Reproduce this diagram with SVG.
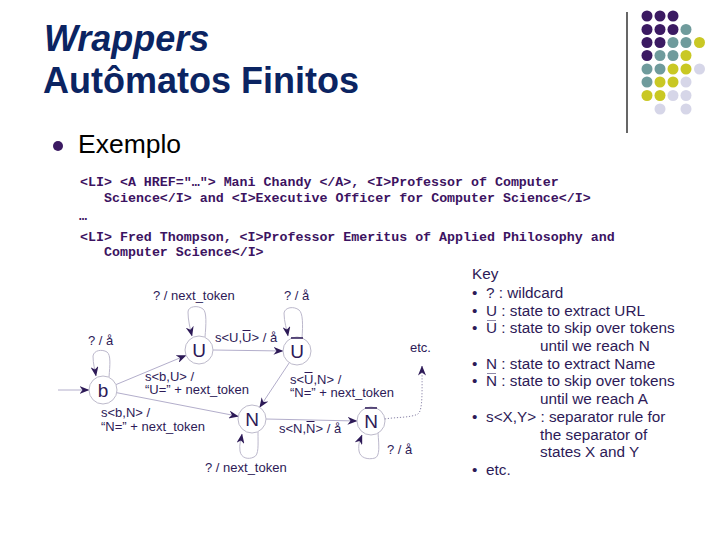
<svg xmlns="http://www.w3.org/2000/svg" width="720" height="540" viewBox="0 0 720 540">
<defs>
<style>
.title{font-family:"Liberation Sans",Arial,sans-serif;font-weight:bold;font-size:36px;fill:#0b2462}
.code{font-family:"Liberation Mono","Courier New",monospace;font-weight:bold;font-size:13.3px;fill:#3c1361}
.lbl{font-family:"Liberation Sans",Arial,sans-serif;font-size:13px;fill:#2d1a57}
.key{font-family:"Liberation Sans",Arial,sans-serif;font-size:15.3px;fill:#2d1a57}
.node circle{fill:#fff;stroke:#bdbacb;stroke-width:1}
.node text{font-family:"Liberation Sans",Arial,sans-serif;font-size:19px;fill:#2d1a57;text-anchor:middle}
.bar{stroke:#2d1a57;stroke-width:1}
.kbar{stroke:#8f8aa8;stroke-width:1}
.edge{fill:none;stroke:#b3aecb;stroke-width:1;marker-end:url(#ah)}
.loop{fill:none;stroke:#bcb8cc;stroke-width:1;marker-end:url(#ah)}
.p{fill:#3b1a62}.t{fill:#6f9b9c}.y{fill:#c9c824}.l{fill:#d6d6e8}
</style>
<marker id="ah" viewBox="0 0 10 8" refX="9.5" refY="4" markerWidth="10" markerHeight="8" markerUnits="userSpaceOnUse" orient="auto">
<path d="M0,0 L10,4 L0,8 L3,4 z" fill="#2d1a57"/>
</marker>
</defs>
<rect width="720" height="540" fill="#fff"/>

<g id="title">
<text class="title" x="44" y="51" font-style="italic">Wrappers</text>
<text class="title" x="43" y="93">Autômatos Finitos</text>
</g>

<g id="decor">
<line x1="627" y1="12" x2="627" y2="133" stroke="#000" stroke-width="1.2"/>
<g>
<circle class="p" cx="647" cy="16" r="5.5"/><circle class="p" cx="660" cy="16" r="5.5"/><circle class="p" cx="673" cy="16" r="5.5"/>
<circle class="p" cx="647" cy="29.5" r="5.5"/><circle class="p" cx="660" cy="29.5" r="5.5"/><circle class="p" cx="673" cy="29.5" r="5.5"/><circle class="t" cx="686" cy="29.5" r="5.5"/>
<circle class="p" cx="647" cy="42.5" r="5.5"/><circle class="p" cx="660" cy="42.5" r="5.5"/><circle class="t" cx="673" cy="42.5" r="5.5"/><circle class="t" cx="686" cy="42.5" r="5.5"/><circle class="y" cx="699.5" cy="42.5" r="5.5"/>
<circle class="p" cx="647" cy="55.5" r="5.5"/><circle class="t" cx="660" cy="55.5" r="5.5"/><circle class="t" cx="673" cy="55.5" r="5.5"/><circle class="y" cx="686" cy="55.5" r="5.5"/>
<circle class="t" cx="647" cy="69" r="5.5"/><circle class="t" cx="660" cy="69" r="5.5"/><circle class="y" cx="673" cy="69" r="5.5"/><circle class="y" cx="686" cy="69" r="5.5"/><circle class="l" cx="699.5" cy="69" r="5.5"/>
<circle class="t" cx="647" cy="82" r="5.5"/><circle class="y" cx="660" cy="82" r="5.5"/><circle class="y" cx="673" cy="82" r="5.5"/><circle class="l" cx="686" cy="82" r="5.5"/>
<circle class="y" cx="647" cy="95.5" r="5.5"/><circle class="y" cx="660" cy="95.5" r="5.5"/><circle class="l" cx="673" cy="95.5" r="5.5"/><circle class="l" cx="686" cy="95.5" r="5.5"/>
<circle class="l" cx="660" cy="109" r="5.5"/><circle class="l" cx="686" cy="109" r="5.5"/>
</g>
</g>

<g id="bullet">
<circle cx="58" cy="146" r="5" fill="#3b1a62"/>
<text x="78" y="153" font-family="'Liberation Sans',Arial,sans-serif" font-size="26.5px" fill="#000">Exemplo</text>
</g>

<g id="code">
<text class="code" x="80" y="186">&lt;LI&gt; &lt;A HREF="…"&gt; Mani Chandy &lt;/A&gt;, &lt;I&gt;Professor of Computer</text>
<text class="code" x="104" y="202">Science&lt;/I&gt; and &lt;I&gt;Executive Officer for Computer Science&lt;/I&gt;</text>
<text class="code" x="79" y="220" font-size="9px">…</text>
<text class="code" x="80" y="241">&lt;LI&gt; Fred Thompson, &lt;I&gt;Professor Emeritus of Applied Philosophy and</text>
<text class="code" x="104" y="256">Computer Science&lt;/I&gt;</text>
</g>

<g id="connectors">
<line class="edge" x1="58" y1="390" x2="89" y2="390"/>
<line class="edge" x1="116" y1="384.6" x2="186" y2="355.4"/>
<line class="edge" x1="213" y1="350" x2="283" y2="351"/>
<line class="edge" x1="116.7" y1="392.7" x2="238.3" y2="416.3"/>
<line class="edge" x1="289.3" y1="362.7" x2="259.7" y2="407.3"/>
<line class="edge" x1="266" y1="419" x2="357" y2="421"/>
<path d="M385,419 C395,417 410,418 418,414 C423,410 422,390 422,366" fill="none" stroke="#8a84a8" stroke-width="1" stroke-dasharray="1.2 1.8" marker-end="url(#ah)"/>
<path class="loop" d="M205,337 C206,325 207,312 203,309 C198,305 188,306 188,312 C188,320 190,328 192,336"/>
<path class="loop" d="M109,377 C110,365 111,355 107,352 C102,349 94,350 93,356 C93,364 95,370 96,376"/>
<path class="loop" d="M302,338 C303,325 303,313 299,310 C294,306 285,307 284,313 C284,322 287,330 288,336"/>
<path class="loop" d="M258,432 C258,445 259,455 254,457 C248,460 241,458 240,451 C239,444 241,440 242,434"/>
<path class="loop" d="M378,433 C379,446 380,456 375,458 C368,460 360,458 359,451 C358,444 360,440 362,435"/>
</g>

<g id="node-b" class="node"><circle cx="103" cy="390" r="14"/><text x="103" y="397">b</text></g>
<g id="node-U" class="node"><circle cx="199" cy="350" r="14"/><text x="199" y="357">U</text></g>
<g id="node-Ubar" class="node"><circle cx="297" cy="351" r="14"/><text x="297" y="358">U</text><line x1="291" y1="338" x2="303" y2="338" stroke="#2d1a57" stroke-width="1.5"/></g>
<g id="node-N" class="node"><circle cx="252" cy="419" r="14"/><text x="252" y="426">N</text></g>
<g id="node-Nbar" class="node"><circle cx="371" cy="421" r="14"/><text x="371" y="428">N</text><line x1="365" y1="408" x2="377" y2="408" stroke="#2d1a57" stroke-width="1.5"/></g>

<g id="labels">
<text class="lbl" x="153" y="300">? / next_token</text>
<text class="lbl" x="284" y="300">? / å</text>
<text class="lbl" x="88" y="345">? / å</text>
<text class="lbl" x="215" y="342">s&lt;U,U&gt; / å</text>
<line class="bar" x1="242.5" y1="330.5" x2="250.5" y2="330.5"/>
<text class="lbl" x="145" y="381">s&lt;b,U&gt; /</text>
<text class="lbl" x="145" y="394">“U=” + next_token</text>
<text class="lbl" x="290" y="384">s&lt;U,N&gt; /</text>
<line class="bar" x1="304.5" y1="372.5" x2="312.5" y2="372.5"/>
<text class="lbl" x="290" y="397">“N=” +  next_token</text>
<text class="lbl" x="101" y="417">s&lt;b,N&gt; /</text>
<text class="lbl" x="101" y="431">“N=” + next_token</text>
<text class="lbl" x="279" y="433">s&lt;N,N&gt; / å</text>
<line class="bar" x1="306.5" y1="421.5" x2="314.5" y2="421.5"/>
<text class="lbl" x="387" y="454">? / å</text>
<text class="lbl" x="205" y="472">? / next_token</text>
<text class="lbl" x="410" y="352" font-size="14.5px">etc.</text>
</g>

<g id="key">
<text class="key" x="472" y="279">Key</text>
<text class="key" x="472" y="298">•</text><text class="key" x="486" y="298">? : wildcard</text>
<text class="key" x="472" y="316">•</text><text class="key" x="486" y="316">U : state to extract URL</text>
<text class="key" x="472" y="333">•</text><text class="key" x="486" y="333">U : state to skip over tokens</text>
<line class="kbar" x1="487" y1="320.5" x2="496" y2="320.5"/>
<text class="key" x="540" y="351">until we reach N</text>
<text class="key" x="472" y="369">•</text><text class="key" x="486" y="369">N : state to extract Name</text>
<text class="key" x="472" y="386">•</text><text class="key" x="486" y="386">N : state to skip over tokens</text>
<line class="kbar" x1="487" y1="373.5" x2="496" y2="373.5"/>
<text class="key" x="540" y="404">until we reach A</text>
<text class="key" x="472" y="422">•</text><text class="key" x="486" y="422">s&lt;X,Y&gt; : separator rule for</text>
<text class="key" x="540" y="440">the separator of</text>
<text class="key" x="540" y="457">states X and Y</text>
<text class="key" x="472" y="475">•</text><text class="key" x="486" y="475">etc.</text>
</g>
</svg>
